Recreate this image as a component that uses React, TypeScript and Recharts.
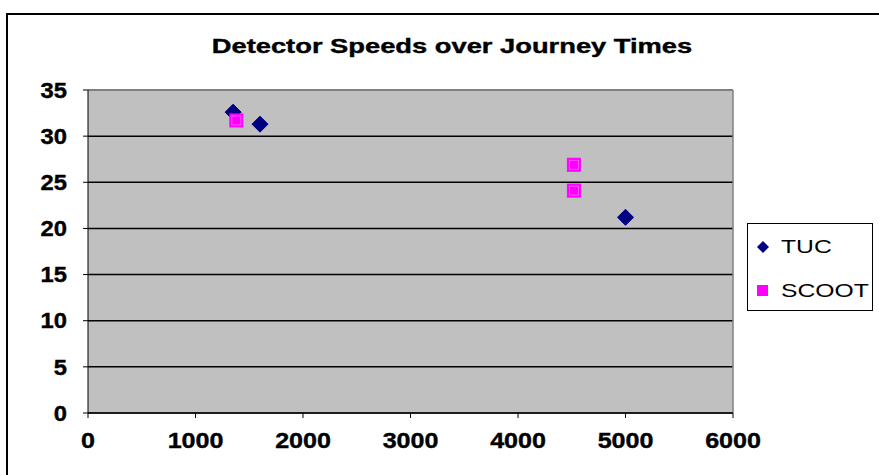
import React from "react";
import {
    ScatterChart, Scatter, XAxis, YAxis, CartesianGrid, ReferenceLine
} from "recharts";

const chartTitle = "Detector Speeds over Journey Times";
const seriesNames = ["TUC", "SCOOT"];

// journey time (x) vs detector speed (y)
const tucX = [1350, 1600, 5000];
const tucY = [32.6, 31.3, 21.2];
const scootX = [1380, 4520, 4520];
const scootY = [31.7, 26.9, 24.1];

const xTicks = [0, 1000, 2000, 3000, 4000, 5000, 6000];
const yTicks = [0, 5, 10, 15, 20, 25, 30, 35];

const tucData = tucX.map((x, i) => ({ x, y: tucY[i] }));
const scootData = scootX.map((x, i) => ({ x, y: scootY[i] }));

const FONT = "'Liberation Sans', Arial, sans-serif";

function Diamond(props: any) {
    const { cx, cy } = props;
    const r = 8;
    return (
        <polygon
            points={`${cx},${cy - r} ${cx + r},${cy} ${cx},${cy + r} ${cx - r},${cy}`}
            fill="#000080"
            stroke="#000080"
        />
    );
}

function Square(props: any) {
    const { cx, cy } = props;
    const s = 13;
    return (
        <g>
            <rect x={cx - s / 2} y={cy - s / 2} width={s} height={s} fill="#FF00FF" stroke="#FF00FF" />
            <rect x={cx - s / 2 + 2} y={cy - s / 2 + 2} width={s - 4} height={s - 4} fill="none" stroke="#FF66FF" strokeWidth={0.8} />
        </g>
    );
}

function YTick(props: any) {
    const { x, y, payload } = props;
    return (
        <text
            transform={`translate(${x},${y}) scale(1.08,1)`}
            textAnchor="end"
            dominantBaseline="central"
            fontFamily={FONT}
            fontWeight="bold"
            fontSize={22}
            fill="#000"
            stroke="#000"
            strokeWidth={0.4}
        >
            {payload.value}
        </text>
    );
}

function XTick(props: any) {
    const { x, y, payload } = props;
    return (
        <text
            transform={`translate(${x},${y}) scale(1.14,1)`}
            textAnchor="middle"
            fontFamily={FONT}
            fontWeight="bold"
            fontSize={22}
            fill="#000"
            stroke="#000"
            strokeWidth={0.4}
        >
            {payload.value}
        </text>
    );
}

function LegendBox() {
    return (
        <div
            style={{
                position: "absolute", left: 747, top: 223, width: 126, height: 88,
                border: "1px solid #000", background: "#fff", boxSizing: "border-box",
            }}
        >
            <svg width={126} height={88} style={{ position: "absolute", left: 0, top: 0 }}>
                <polygon points="15,17 21,23 15,29 9,23" fill="#000080" />
                <rect x={9} y={61} width={11} height={11} fill="#FF00FF" />
                {seriesNames.map((name, i) => (
                    <text
                        key={name}
                        transform={`translate(33,${23 + i * 44}) scale(1.3,1)`}
                        dominantBaseline="central"
                        fontFamily={FONT}
                        fontSize={19}
                        fill="#000"
                    >
                        {name}
                    </text>
                ))}
            </svg>
        </div>
    );
}

export default function App() {
    return (
        <div style={{ position: "absolute", left: 0, top: 0, width: 879, height: 475, overflow: "hidden", background: "#fff" }}>
            <div
                style={{
                    position: "absolute", left: 6, top: 13, width: 900, height: 500,
                    border: "2px solid #000", boxSizing: "border-box",
                }}
            />
            <div
                style={{
                    position: "absolute", left: 0, top: 34, width: 904, textAlign: "center",
                    fontFamily: FONT, fontWeight: "bold", fontSize: 21, lineHeight: "24px",
                    transform: "scaleX(1.3)", transformOrigin: "452px 0",
                    WebkitTextStroke: "0.4px #000",
                }}
            >
                {chartTitle}
            </div>
            <div style={{ position: "absolute", left: 0, top: 0 }}>
                <ScatterChart width={879} height={475} margin={{ top: 90, right: 146, bottom: 0, left: 0 }}>
                    <CartesianGrid vertical={false} stroke="#000" strokeWidth={1.5} fill="#C0C0C0" fillOpacity={1} />
                    <XAxis
                        type="number"
                        dataKey="x"
                        domain={[0, 6000]}
                        ticks={xTicks}
                        interval={0}
                        height={62}
                        stroke="#000"
                        tickSize={5}
                        tickMargin={30}
                        tick={<XTick />}
                    />
                    <YAxis
                        type="number"
                        dataKey="y"
                        domain={[0, 35]}
                        ticks={yTicks}
                        interval={0}
                        width={88}
                        stroke="#000"
                        tickSize={5}
                        tickMargin={16}
                        tick={<YTick />}
                    />
                    <ReferenceLine y={35} stroke="#808080" strokeWidth={2} />
                    <ReferenceLine x={6000} stroke="#808080" strokeWidth={1.5} />
                    <Scatter name={seriesNames[0]} data={tucData} shape={<Diamond />} isAnimationActive={false} />
                    <Scatter name={seriesNames[1]} data={scootData} shape={<Square />} isAnimationActive={false} />
                </ScatterChart>
            </div>
            <LegendBox />
        </div>
    );
}
